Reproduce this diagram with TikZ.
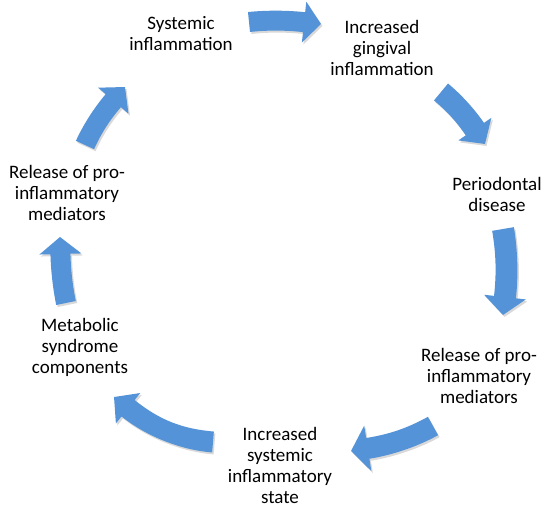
\documentclass[tikz,border=0pt]{standalone}
\usepackage{fontspec}
\setmainfont{Carlito}
\usetikzlibrary{calc}
\definecolor{arrowblue}{RGB}{84,147,215}
\tikzset{
  lbl/.style={font=\fontsize{19}{21}\selectfont, align=center, inner sep=0pt, text=black},
  arrowfill/.style={fill=arrowblue},
  arrowshadow/.style={fill=black, opacity=0.15},
}
% #1,#2 tail centre; #3,#4 tip; #5 bend angle; #6 shaft width; #7 head width; #8 head length
\newcommand\cyclearrow[8]{%
  \pgfmathsetmacro\ax{#3-#1}\pgfmathsetmacro\ay{#2-#4}%
  \pgfmathsetmacro\aD{veclen(\ax,\ay)}%
  \pgfmathsetmacro\aal{atan2(\ay,\ax)}%
  \pgfmathsetmacro\as{sin(#5)}\pgfmathsetmacro\ac{cos(#5)}%
  \pgfmathsetmacro\ahs{#8*\as}\pgfmathsetmacro\ahc{#8*\ac}%
  \pgfmathsetmacro\aC{sqrt(\aD*\aD-\ahs*\ahs)-\ahc}%
  \pgfmathsetmacro\aeps{atan2(\ahs,\aC+\ahc)}%
  \pgfmathsetmacro\arot{\aal+\aeps}%
  \pgfmathsetmacro\ak{\aC/3/\ac}%
  \pgfmathsetmacro\hw{#6/2}\pgfmathsetmacro\hH{#7/2}%
  \pgfmathsetmacro\AOx{-\as*\hw}\pgfmathsetmacro\AOy{\ac*\hw}%
  \pgfmathsetmacro\AIx{\AOx+\ak*\ac}\pgfmathsetmacro\AIy{\AOy+\ak*\as}%
  \pgfmathsetmacro\ATx{\aC+\as*\hw}\pgfmathsetmacro\ATy{\ac*\hw}%
  \pgfmathsetmacro\ASx{\ATx-\ak*\ac}\pgfmathsetmacro\ASy{\ATy+\ak*\as}%
  \pgfmathsetmacro\HLx{\aC+\as*\hH}\pgfmathsetmacro\HLy{\ac*\hH}%
  \pgfmathsetmacro\Tx{\aC+\ahc}\pgfmathsetmacro\Ty{-\ahs}%
  \pgfmathsetmacro\HRx{\aC-\as*\hH}\pgfmathsetmacro\HRy{-\ac*\hH}%
  \pgfmathsetmacro\BTx{\aC-\as*\hw}\pgfmathsetmacro\BTy{-\ac*\hw}%
  \pgfmathsetmacro\BSx{\BTx-\ak*\ac}\pgfmathsetmacro\BSy{\BTy+\ak*\as}%
  \pgfmathsetmacro\BOx{\as*\hw}\pgfmathsetmacro\BOy{-\ac*\hw}%
  \pgfmathsetmacro\BIx{\BOx+\ak*\ac}\pgfmathsetmacro\BIy{\BOy+\ak*\as}%
  \def\arrowpath{(\BOx pt,\BOy pt) -- (\AOx pt,\AOy pt)
     .. controls (\AIx pt,\AIy pt) and (\ASx pt,\ASy pt) .. (\ATx pt,\ATy pt)
     -- (\HLx pt,\HLy pt) -- (\Tx pt,\Ty pt) -- (\HRx pt,\HRy pt)
     -- (\BTx pt,\BTy pt)
     .. controls (\BSx pt,\BSy pt) and (\BIx pt,\BIy pt) .. (\BOx pt,\BOy pt) -- cycle}%
  \begin{scope}[shift={(#1+1.5,#2+2)},rotate=\arot]
    \fill[arrowshadow] \arrowpath;
  \end{scope}
  \begin{scope}[shift={(#1,#2)},rotate=\arot]
    \fill[arrowfill] \arrowpath;
  \end{scope}%
}
\begin{document}
\begin{tikzpicture}[x=1pt,y=-1pt]
\useasboundingbox[fill=white] (0,0) rectangle (550,510);
% arrows
\cyclearrow{249}{22}{321}{24}{6}{20}{41}{17}
\cyclearrow{441}{92}{485}{144}{8}{22}{40}{18}
\cyclearrow{503}{229}{503}{315}{8}{22}{42}{18}
\cyclearrow{433}{426}{351}{451}{10}{21}{46}{17}
\cyclearrow{213}{442}{114}{397}{17}{21}{39}{18}
\cyclearrow{66}{303}{60}{237}{5}{20}{42}{17}
\cyclearrow{85}{145}{125}{87}{8}{20}{40}{18}
% labels
\node[lbl] (n1) at (181,34) {Systemic\\inflammation};
\node[lbl] (n2) at (382,48) {Increased\\gingival\\inflammation};
\node[lbl] (n3) at (497,194) {Periodontal\\disease};
\node[lbl] (n4) at (479,376) {Release of pro-\\inflammatory\\mediators};
\node[lbl] (n5) at (280,465) {Increased\\systemic\\inflammatory\\state};
\node[lbl] (n6) at (80,347) {Metabolic\\syndrome\\components};
\node[lbl] (n7) at (67,193) {Release of pro-\\inflammatory\\mediators};
\end{tikzpicture}
\end{document}
